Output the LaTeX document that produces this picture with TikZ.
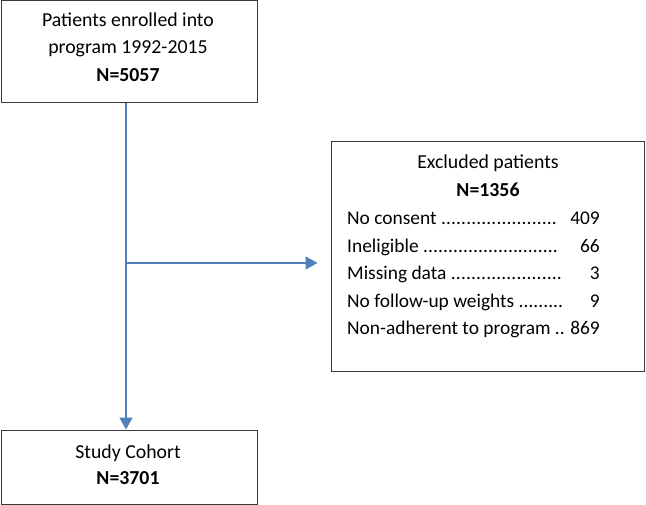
\documentclass[tikz,border=0pt]{standalone}
\usepackage{fontspec}
\setmainfont{Carlito}
\usetikzlibrary{arrows.meta,calc}
\definecolor{flowblue}{HTML}{4F81BD}
\definecolor{boxline}{HTML}{3A3A3A}
\newcommand{\dotrow}[2]{\makebox[#2pt][l]{#1 \xleaders\hbox{.}\hfill}}
\begin{document}
\begin{tikzpicture}[x=1pt,y=-1pt,
  box/.style={draw=boxline,line width=1pt,rectangle,inner sep=0pt},
  txt/.style={font=\fontsize{19.8}{27.5}\selectfont,inner sep=0pt,align=center,anchor=base},
  btxt/.style={txt,font=\fontsize{19.8}{27.5}\selectfont\bfseries},
  ltxt/.style={font=\fontsize{19.4}{27.4}\selectfont,inner sep=0pt},
  flow/.style={draw=flowblue,line width=1.5pt,-{Triangle[length=12pt,width=13pt]}}]
\useasboundingbox (0,0) rectangle (646,505);
% boxes
\node[box,minimum width=256pt,minimum height=102pt] (top) at (129,52) {};
\node[box,minimum width=313pt,minimum height=230pt] (ex) at (487.5,257) {};
\node[box,minimum width=256pt,minimum height=74pt] (bot) at (129,467) {};
% texts
\node[txt] (t1) at (128,27) {Patients enrolled into};
\node[txt] (t2) at (128,54) {program 1992-2015};
\node[btxt] (t3) at (128,82) {N=5057};
\node[txt] (e1) at (488,169) {Excluded patients};
\node[btxt] (e2) at (488,197) {N=1356};
\node[ltxt,anchor=base west] (listl) at (347,225)
 {\begin{tabular}[t]{@{}l@{}}
  \dotrow{No consent}{210}\\
  \dotrow{Ineligible}{211}\\
  \dotrow{Missing data}{215}\\
  \dotrow{No follow-up weights}{216}\\
  Non-adherent to program ..
 \end{tabular}};
\node[ltxt,anchor=base east] (listr) at (600,225)
 {\begin{tabular}[t]{@{}r@{}}
  409\\ 66\\ 3\\ 9\\ 869
 \end{tabular}};
\node[txt] (b1) at (128,458) {Study Cohort};
\node[btxt] (b2) at (128,484) {N=3701};
% connectors
\coordinate (vs) at ($(top.south)+(-3,0)$);
\coordinate (ve) at ($(bot.north)+(-3,0)$);
\coordinate (br) at (126,263);
\draw[flow] (vs) -- (ve);
\draw[flow,shorten >=13pt] (br) -- (br -| ex.west);
\end{tikzpicture}
\end{document}
